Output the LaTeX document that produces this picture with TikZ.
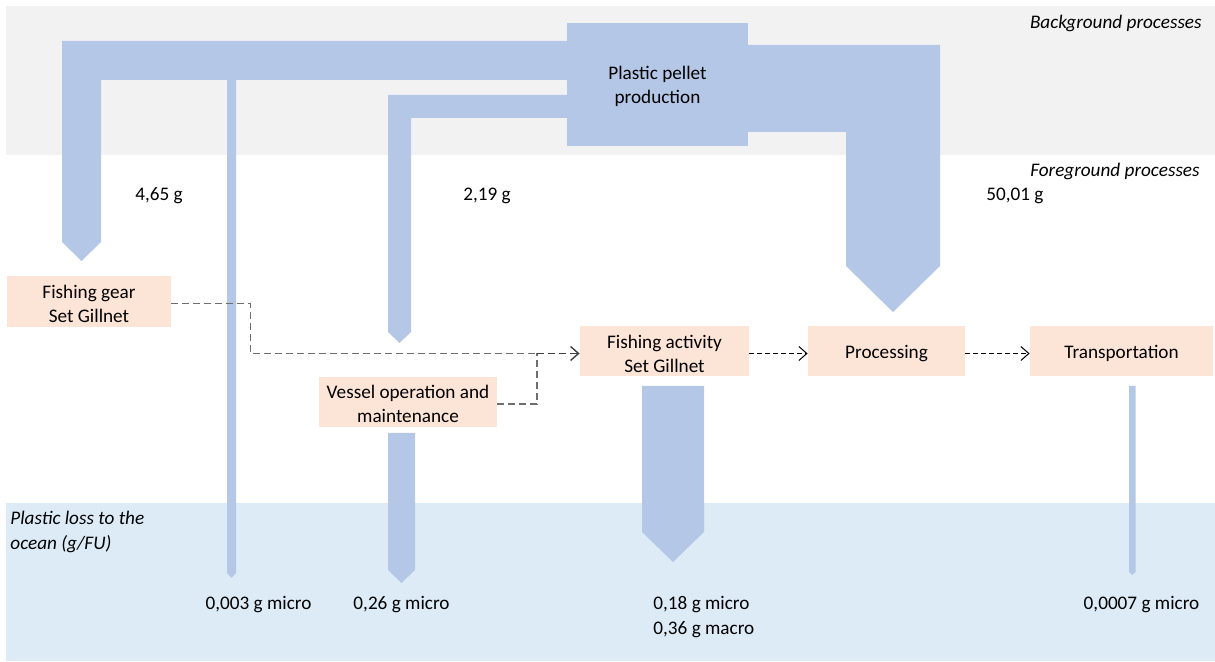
\documentclass[tikz,border=0pt]{standalone}
\usepackage{fontspec}
\setmainfont{Carlito}
\usetikzlibrary{arrows.meta}
\definecolor{bgband}{HTML}{F2F2F2}
\definecolor{oceanband}{HTML}{DDEBF7}
\definecolor{flowblue}{HTML}{B4C7E7}
\definecolor{peach}{HTML}{FCE4D6}
\definecolor{linkgray}{HTML}{6E6E6E}
\begin{document}
\begin{tikzpicture}[x=0.5pt,y=-0.5pt,
  every node/.style={font=\fontsize{9.6}{12}\selectfont, inner sep=0pt},
  % box fill sits 1pt above the node, so the text lands a little lower in it
  boxfill/.style={preaction={fill=#1, transform canvas={yshift=1pt}}},
  lowtext/.style={yshift=-1pt},
  flow/.style={fill=flowblue, draw=none},
  proc/.style={boxfill=peach, lowtext, align=center, minimum height=25pt},
  zonelabel/.style={lowtext, font=\fontsize{9.6}{12.5}\selectfont\itshape, align=left},
  amount/.style={lowtext, anchor=west},
  loss/.style={lowtext, align=left},
  gearlink/.style={draw=linkgray, line width=0.7pt, dash pattern=on 3.5pt off 2pt},
  chainlink/.style={draw=black, line width=0.5pt, dash pattern=on 2.2pt off 1.8pt,
    -{Straight Barb[length=4pt,width=7pt]}}
]
\useasboundingbox (0,0) rectangle (1215,662);

% zone bands
\fill[bgband] (6,6) rectangle (1215,155);
\fill[oceanband] (6,503) rectangle (1215,661);
\node[zonelabel, anchor=east] (bglab) at (1202,21) {Background processes};
\node[zonelabel, anchor=east] (fglab) at (1200,169) {Foreground processes};
\node[zonelabel, anchor=north west] (oclab) at (10,509) {Plastic loss to the\\ocean (g/FU)};

% material flows out of pellet production
\fill[flow] (62,41) -- (567,41) -- (567,80) -- (101,80) -- (101,242) -- (81.5,261)
  -- (62,242) -- cycle;
\fill[flow] (227,80) -- (236,80) -- (236,573) -- (231.5,578) -- (227,573) -- cycle;
\fill[flow] (388,95) -- (567,95) -- (567,118) -- (411,118) -- (411,332) -- (399.5,343)
  -- (388,332) -- cycle;
\fill[flow] (748,45) -- (940,45) -- (940,266) -- (893,312) -- (846,266) -- (846,132)
  -- (748,132) -- cycle;

\node[boxfill=flowblue, lowtext, align=center, minimum width=90.5pt, minimum height=61.5pt]
  (pellet) at (657.5,84.5) {Plastic pellet\\production};

% flow amounts
\node[amount] (amtgear) at (135,194) {4,65 g};
\node[amount] (amtvessel) at (463,194) {2,19 g};
\node[amount] (amtproc) at (986,194) {50,01 g};

% foreground processes
\node[proc, minimum width=82pt, minimum height=25.5pt] (gear) at (89,301.5)
  {Fishing gear\\Set Gillnet};
\node[proc, minimum width=89pt] (vessel) at (408,402)
  {Vessel operation and\\maintenance};
\node[proc, minimum width=84.5pt] (activity) at (664.5,351.5)
  {Fishing activity\\Set Gillnet};
\node[proc, minimum width=78.5pt] (processing) at (886.5,351.5) {Processing};
\node[proc, minimum width=91.5pt] (transport) at (1121.5,351.5) {Transportation};

% links between processes
\coordinate (join) at (537,353.5);
\draw[gearlink] (gear.east) -- (250.7,303.5) -- (250.7,353.5) -- (join);
\draw[gearlink] (vessel.east) -| (join);
\draw[gearlink, draw=black!75, -{Straight Barb[length=4pt,width=7pt]}] (join) -- (activity.west);
\draw[chainlink] (activity.east) -- (processing.west);
\draw[chainlink] (processing.east) -- (transport.west);

% losses to the ocean
\fill[flow] (388,433) -- (415,433) -- (415,570) -- (401.5,583) -- (388,570) -- cycle;
\fill[flow] (642,386) -- (704,386) -- (704,532) -- (673,562) -- (642,532) -- cycle;
\fill[flow] (1129,386) -- (1135.5,386) -- (1135.5,572) -- (1132.3,575) -- (1129,572) -- cycle;

\node[lowtext] (lossgear) at (258.5,603) {0,003 g micro};
\node[lowtext] (lossvessel) at (401.5,603) {0,26 g micro};
\node[loss, anchor=north west, font=\fontsize{9.6}{12.5}\selectfont] (lossactivity) at (653,593.5)
  {0,18 g micro\\0,36 g macro};
\node[lowtext] (losstransport) at (1141.5,603) {0,0007 g micro};
\end{tikzpicture}
\end{document}
